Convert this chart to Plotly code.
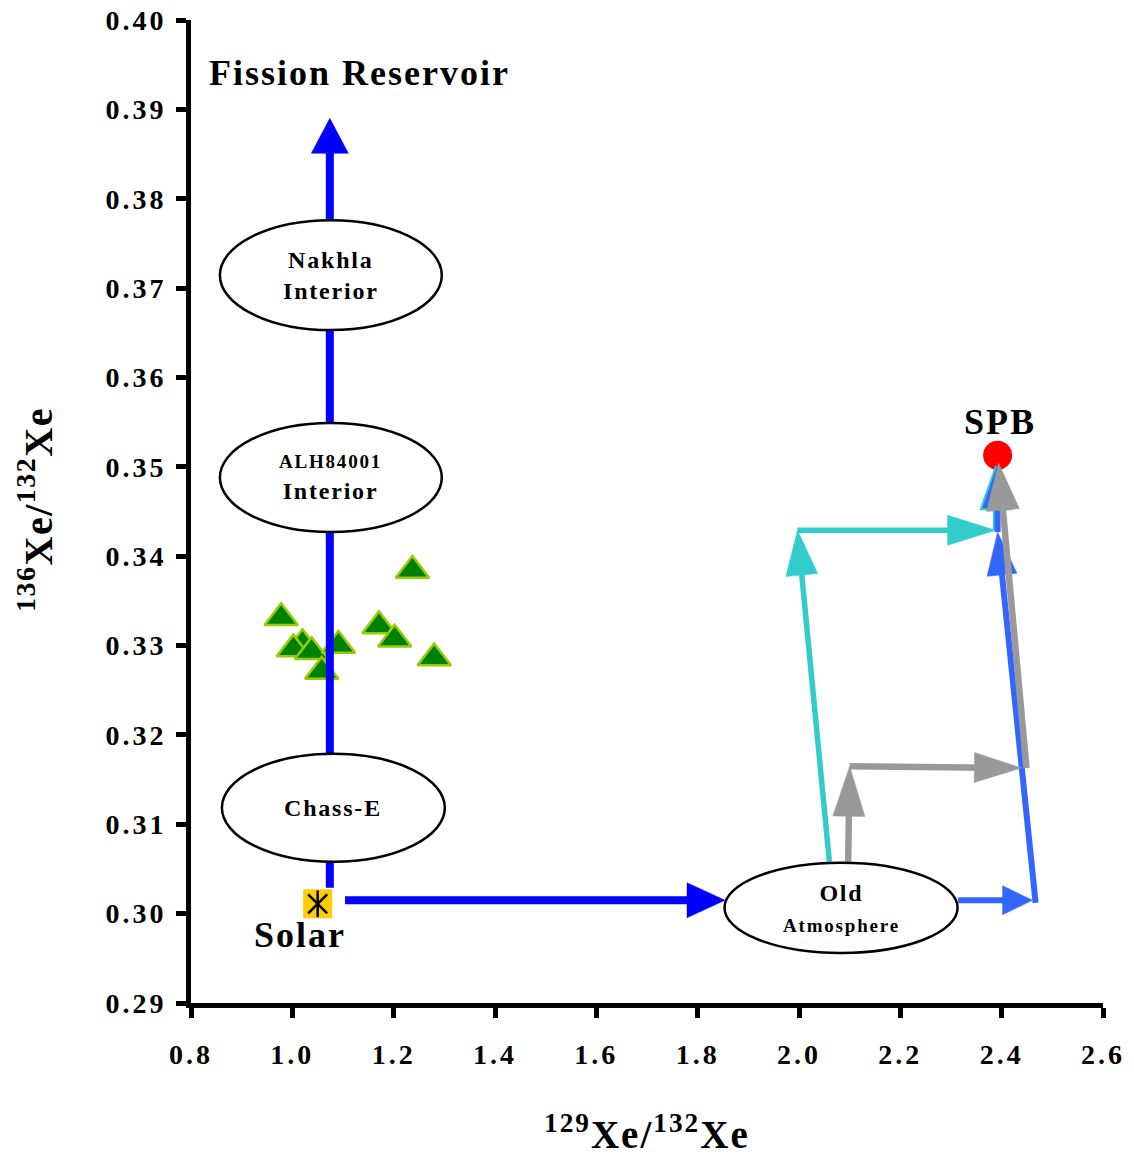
import plotly.graph_objects as go
import numpy as np

# ---------------- data ----------------
x_ticks = [0.8, 1.0, 1.2, 1.4, 1.6, 1.8, 2.0, 2.2, 2.4, 2.6]
y_ticks = [0.29, 0.30, 0.31, 0.32, 0.33, 0.34, 0.35, 0.36, 0.37, 0.38, 0.39, 0.40]
x_tick_labels = ["%.1f" % v for v in x_ticks]
y_tick_labels = ["%.2f" % v for v in y_ticks]

# meteorite measurements (green triangles)
meas_x = [1.237, 0.978, 1.171, 1.202, 1.280, 1.020, 1.002, 1.038, 1.091, 1.058]
meas_y = [0.3384, 0.3331, 0.3322, 0.3307, 0.3286, 0.3302, 0.3296, 0.3293, 0.3300, 0.3271]

solar_x = [1.050]
solar_y = [0.3011]
spb_x = [2.392]
spb_y = [0.3513]

# reservoirs (ellipses): labels, x-range and y-range
res_line1 = ["Nakhla", "ALH84001", "Chass-E", "Old"]
res_line2 = ["Interior", "Interior", "", "Atmosphere"]
res_x0 = [0.857, 0.857, 0.861, 1.853]
res_x1 = [1.295, 1.295, 1.301, 2.313]
res_y0 = [0.3653, 0.3427, 0.3058, 0.2956]
res_y1 = [0.3776, 0.3549, 0.3179, 0.3057]

# evolution arrows: (x_start, y_start) -> (x_end, y_end)
fission_x = [1.074, 1.074]
fission_y = [0.3029, 0.3890]
solar_atm_x = [1.104, 1.854]
solar_atm_y = [0.3015, 0.3015]

cyan_x0 = [2.060, 1.997, 2.388]
cyan_y0 = [0.3058, 0.3429, 0.3429]
cyan_x1 = [1.997, 2.388, 2.388]
cyan_y1 = [0.3429, 0.3429, 0.3502]

lblue_x0 = [2.314, 2.467, 2.392]
lblue_y0 = [0.3015, 0.3012, 0.3427]
lblue_x1 = [2.461, 2.392, 2.392]
lblue_y1 = [0.3015, 0.3427, 0.3502]

gray_x0 = [2.097, 2.100, 2.449]
gray_y0 = [0.3058, 0.3165, 0.3163]
gray_x1 = [2.100, 2.439, 2.394]
gray_y1 = [0.3165, 0.3163, 0.3504]

# ---------------- layout geometry ----------------
# page body adds an 8px offset; figure sized so the plot area lands at
# x 191..1103, y 20..1003 in the window
W, H = 1126, 1146
ML, MR, MT, MB = 183, 31, 12, 151
PW, PH = W - ML - MR, H - MT - MB
X0, X1 = 0.8, 2.6
Y0, Y1 = 0.29, 0.40
FONT = "Liberation Serif"


def sp(text, ls, size=None):
    st = "letter-spacing:%spx" % ls
    if size:
        st += ";font-size:%spx" % size
    return "<span style='%s'>%s</span>" % (st, text)


def to_px(x, y):
    return np.array([(x - X0) / (X1 - X0) * PW, (Y1 - y) / (Y1 - Y0) * PH])


def to_data(p):
    return (X0 + p[0] / PW * (X1 - X0), Y1 - p[1] / PH * (Y1 - Y0))


fig = go.Figure()


def add_arrow(x0, y0, x1, y1, color, lw, head_len, head_w):
    p0 = to_px(x0, y0)
    p1 = to_px(x1, y1)
    d = p1 - p0
    u = d / np.linalg.norm(d)
    n = np.array([-u[1], u[0]])
    base = p1 - u * head_len
    lend = p1 - u * head_len * 0.7
    le = to_data(lend)
    fig.add_trace(go.Scatter(x=[x0, le[0]], y=[y0, le[1]], mode="lines",
                             line=dict(color=color, width=lw), hoverinfo="skip"))
    pts = [p1, base + n * head_w / 2, base - n * head_w / 2, p1]
    dd = [to_data(p) for p in pts]
    fig.add_trace(go.Scatter(x=[q[0] for q in dd], y=[q[1] for q in dd], mode="lines",
                             fill="toself", fillcolor=color,
                             line=dict(color=color, width=0.5), hoverinfo="skip"))


# measurements
fig.add_trace(go.Scatter(x=meas_x, y=meas_y, mode="markers",
                         marker=dict(symbol="triangle-up", size=29, color="#008000",
                                     line=dict(color="#99CC00", width=2.5))))

# main blue arrows
add_arrow(fission_x[0], fission_y[0], fission_x[1], fission_y[1], "#0000FF", 8, 35, 37)
add_arrow(solar_atm_x[0], solar_atm_y[0], solar_atm_x[1], solar_atm_y[1], "#0000FF", 8, 38, 35)

# SPB point
fig.add_trace(go.Scatter(x=spb_x, y=spb_y, mode="markers",
                         marker=dict(symbol="circle", size=29, color="#FF0000")))

# cyan path
cy_heads = [(45, 32), (48, 30), (45, 32)]
for i in range(len(cyan_x0)):
    add_arrow(cyan_x0[i], cyan_y0[i], cyan_x1[i], cyan_y1[i], "#33CCCC", 5.5, *cy_heads[i])
# light blue path
lb_heads = [(30, 29), (43, 30), (43, 30)]
for i in range(len(lblue_x0)):
    add_arrow(lblue_x0[i], lblue_y0[i], lblue_x1[i], lblue_y1[i], "#3366FF", 6, *lb_heads[i])
# gray path
gr_heads = [(50, 32), (47, 30), (47, 33)]
for i in range(len(gray_x0)):
    add_arrow(gray_x0[i], gray_y0[i], gray_x1[i], gray_y1[i], "#999999", 6.5, *gr_heads[i])

# solar marker
fig.add_trace(go.Scatter(x=solar_x, y=solar_y, mode="markers",
                         marker=dict(symbol="square", size=29, color="#FFCC00")))
fig.add_trace(go.Scatter(x=solar_x, y=solar_y, mode="markers",
                         marker=dict(symbol="x-thin-open", size=19, color="black",
                                     line=dict(color="black", width=2.5))))
fig.add_trace(go.Scatter(x=solar_x, y=solar_y, mode="markers",
                         marker=dict(symbol="line-ns-open", size=19, color="black",
                                     line=dict(color="black", width=2.5))))

# ellipses
line1_size = [24, 19, 24, 24]
line2_size = [24, 24, 24, 19]
for i in range(len(res_line1)):
    fig.add_shape(type="circle", xref="x", yref="y",
                  x0=res_x0[i], x1=res_x1[i], y0=res_y0[i], y1=res_y1[i],
                  line=dict(color="black", width=2.5), fillcolor="white", layer="above")
    txt = sp(res_line1[i], 1.8, line1_size[i])
    if res_line2[i]:
        txt += "<br>" + sp(res_line2[i], 1.8, line2_size[i])
    fig.add_annotation(x=(res_x0[i] + res_x1[i]) / 2, y=(res_y0[i] + res_y1[i]) / 2,
                       xref="x", yref="y", text=txt, showarrow=False,
                       font=dict(family=FONT, size=24, color="black", weight="bold"))

# labels
labels = [("Fission Reservoir", 1.133, 0.3941), ("SPB", 2.397, 0.3550), ("Solar", 1.015, 0.2976)]
for t, lx, ly in labels:
    fig.add_annotation(x=lx, y=ly, xref="x", yref="y", text=sp(t, 2), showarrow=False,
                       font=dict(family=FONT, size=36, color="black", weight="bold"))

# axis titles
fig.add_annotation(x=0.5, y=-129 / PH, xref="paper", yref="paper",
                   text=sp("<sup>129</sup>Xe/<sup>132</sup>Xe", 2),
                   showarrow=False, yanchor="middle",
                   font=dict(family=FONT, size=39, color="black", weight="bold"))
fig.add_annotation(x=-156 / PW, y=(983 - 490) / PH, xref="paper", yref="paper",
                   text=sp("<sup>136</sup>Xe/<sup>132</sup>Xe", 1.5), textangle=-90,
                   showarrow=False, xanchor="center", yanchor="middle",
                   font=dict(family=FONT, size=40, color="black", weight="bold"))

axis_common = dict(showline=True, linewidth=5, linecolor="black", ticks="outside",
                   ticklen=10, tickwidth=5, tickcolor="black", showgrid=False,
                   zeroline=False, automargin=False, ticklabeloverflow="allow",
                   tickfont=dict(family=FONT, size=28, color="black", weight="bold"))
fig.update_xaxes(range=[X0 - 1e-6, X1 + 1e-6], tickvals=x_ticks,
                 ticktext=[sp(t, 3) for t in x_tick_labels],
                 ticklabelstandoff=12, **axis_common)
fig.update_yaxes(range=[Y0 - 1e-7, Y1 + 1e-7], tickvals=y_ticks,
                 ticktext=[sp(t, 3) for t in y_tick_labels],
                 ticklabelstandoff=4, **axis_common)

fig.update_layout(width=W, height=H, margin=dict(l=ML, r=MR, t=MT, b=MB, autoexpand=False),
                  plot_bgcolor="white", paper_bgcolor="white", showlegend=False)

fig.write_html("out.html")
